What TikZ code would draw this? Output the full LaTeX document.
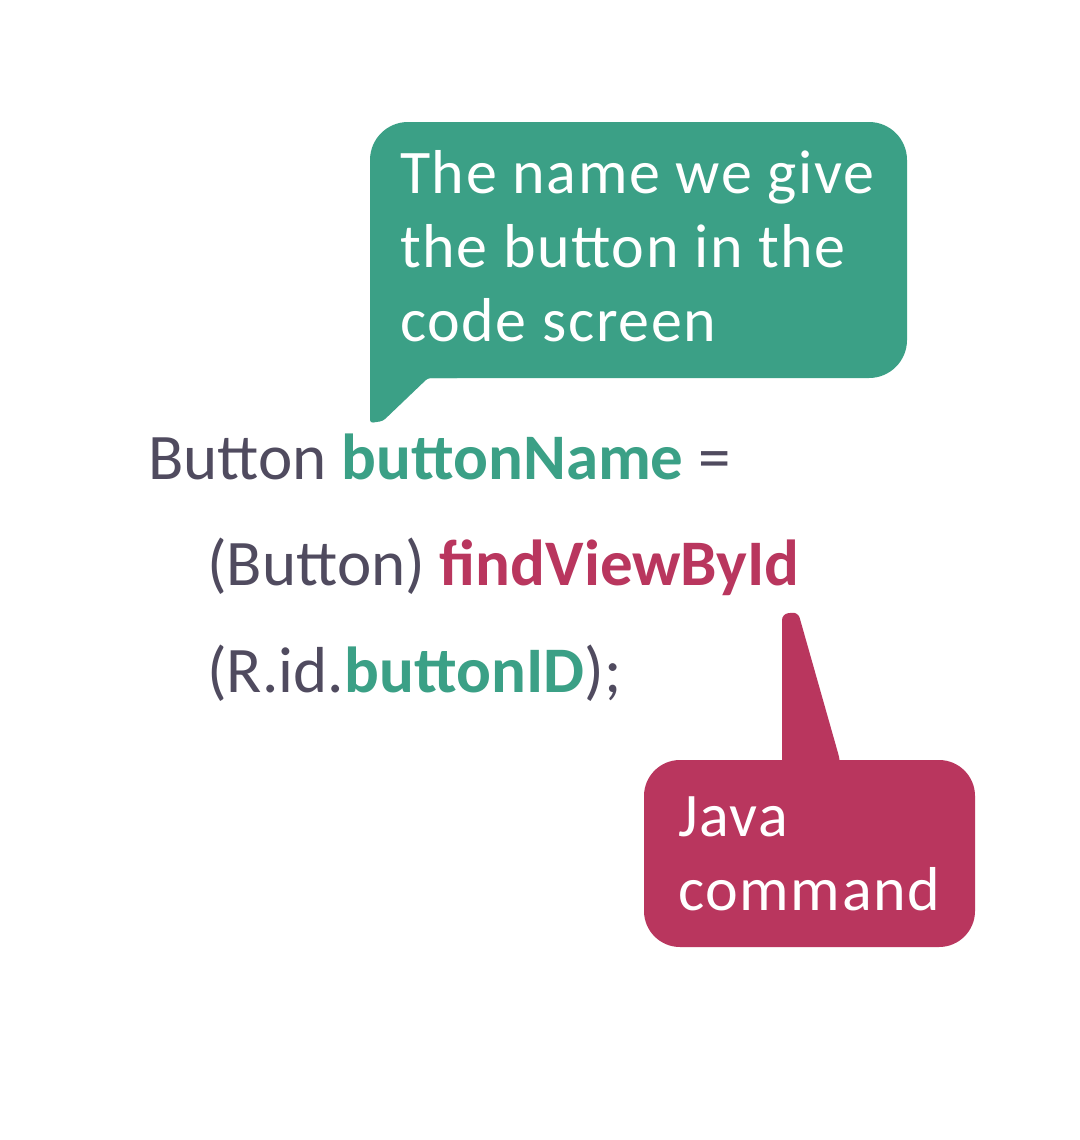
\documentclass[tikz,border=0pt]{standalone}
\usepackage{fontspec}
\setmainfont{Carlito}
\usepackage{xcolor}
\definecolor{namegreen}{RGB}{59,160,134}
\definecolor{cmdred}{RGB}{185,54,94}
\definecolor{codegrey}{RGB}{80,75,95}
\begin{document}
\begin{tikzpicture}[x=1pt, y=-1pt,
    codeline/.style={anchor=base west, inner sep=0pt, text=codegrey, font=\fontsize{65}{76}\selectfont},
    bubbletext/.style={anchor=base west, inner sep=0pt, text=white, align=left, font=\fontsize{62}{74}\selectfont\addfontfeature{LetterSpace=2.6}}]
    \useasboundingbox[fill=white] (0,0) rectangle (1079,1140);

    % Green callout
    \fill[namegreen, rounded corners=38pt] (370,122) rectangle (907,378);
    \fill[namegreen, rounded corners=3pt] (370,300) -- (370,423) -- (383,421) -- (428,378) -- (460,378) -- (460,300) -- cycle;
    \node[bubbletext] (nametext) at (400,341) {The name we give\\the button in the\\code screen};

    % Code
    \node[codeline] (line1) at (148,479) {Button \textcolor{namegreen}{\textbf{buttonName}} =};
    \node[codeline] (line2) at (207,585) {(Button) \textcolor{cmdred}{\textbf{findViewById}}};
    \node[codeline] (line3) at (207,692) {(R.id.\textcolor{namegreen}{\textbf{buttonID}});};

    % Red callout
    \fill[cmdred, rounded corners=36pt] (644,760) rectangle (975,947);
    \fill[cmdred, rounded corners=6pt] (782,800) -- (782,614) -- (798,612) -- (840,760) -- (840,800) -- cycle;
    \node[bubbletext] (cmdtext) at (678,910) {Java\\command};
\end{tikzpicture}
\end{document}
